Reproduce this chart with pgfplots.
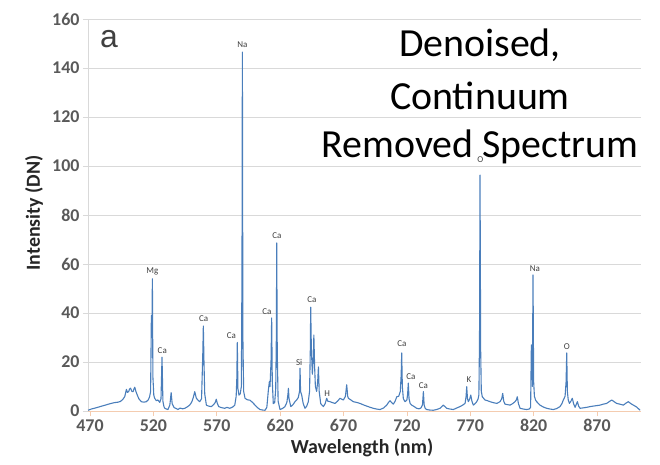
\documentclass[border=0pt]{standalone}
\usepackage{pgfplots}
\pgfplotsset{compat=1.18}
\usepackage{fontspec}
\setmainfont{Carlito}
\newfontfamily\arialfont{Liberation Sans}
\definecolor{specblue}{RGB}{74,126,187}
\definecolor{gridgray}{RGB}{217,217,217}
\definecolor{tickgray}{RGB}{89,89,89}
\definecolor{xaxiscol}{RGB}{244,204,176}
\definecolor{labgray}{RGB}{64,64,64}
\tikzset{peak/.style={font=\fontsize{9}{10}\selectfont, text=labgray, inner sep=0pt}}

% Denoised, continuum-removed LIBS spectrum: wavelength (nm), intensity (DN)
\pgfplotstableread{
nm val
468.5 0.3
471 0.8
474 1.2
478 1.8
482 2.4
486 3.0
489 3.4
492 3.6
494 3.9
496 4.8
497.4 5.9
498.7 8.8
499.5 7.6
500.5 7.9
501.2 9.0
502 9.3
503 8.0
504 7.9
504.7 9.0
505.3 9.7
506.2 8.0
507.3 6.5
508.5 5.0
510.5 3.8
512.5 3.6
514.4 3.8
516 4.6
517 5.8
517.8 8.0
518.4 39
518.8 30
519.2 54
519.6 14
520.3 6.5
521 5.2
522.3 4.2
523.6 4.5
525 3.5
526 5.0
526.8 22
527.5 4.0
528.3 1.8
529 1.1
530.3 0.8
531.5 0.6
533 2.5
534 7.5
534.8 3.0
536.3 1.4
538 1.0
539.4 0.6
541 1.2
543 0.9
544.7 1.1
546.5 1.6
548.6 2.4
550.2 3.6
551.3 5.2
552.6 7.9
553.9 5.2
555.2 4.4
556.5 3.8
558 5.0
559 24
559.4 34.7
559.9 20
560.5 7
561.8 2.4
563.5 2.0
565.7 1.8
567.5 2.6
568.8 3.5
569.6 4.8
570.4 3.2
571.5 1.8
573.5 1.4
576.3 1.1
578 1.5
580.2 1.1
582.5 1.6
584.2 2.4
585.3 6
585.8 13
586.2 28
586.7 9
587.5 6.5
588.5 7
589.4 10
589.9 60
590.2 146.5
590.6 30
591.2 8
592.3 5.2
594 4.6
596.2 4.4
598.2 3.5
600.2 2.4
602 1.4
604.1 0.6
606 0.4
608.1 0.3
609.5 1.5
610.7 8.5
611.5 12
612 10
612.8 20
613.3 38
613.8 12
614.6 3.0
615.7 3.5
616.5 9
617 30
617.3 68.6
617.7 25
618.4 4
619.9 0.6
621.8 1.0
623.8 1.8
625.3 3.5
626.2 7
626.5 9.3
627 5
628.4 1.8
630 2.5
631.7 3.8
633 4.5
634.3 5.5
635.3 8
635.7 17.5
636.1 8
637 6.5
638.2 3
639.6 1.1
641 2
642.2 3.8
643.2 8
643.8 25
644.1 42.4
644.6 26
645.4 15
646.2 22
646.6 31
647.2 18
647.8 10
648.8 8
649.6 12
650.2 18
650.8 8
652 3.0
654.1 1.8
655.5 3.0
656.7 5.2
657.6 4
659.4 3.8
661.3 3.4
663.3 3.1
665.3 4.0
667.2 5.2
669.9 4.5
671.5 6
672.5 10.7
673.3 6
673.8 5.2
675.8 4.5
677.7 3.8
680.4 3.5
683 3.1
685.7 2.5
688.3 2.0
691 1.5
693.5 1.1
696 0.8
698.8 0.6
701.5 1.2
704.1 2.4
705.5 3.5
706.7 4.2
708 3.4
709.3 2.8
710.7 4
712 5.8
713.5 6
714.8 8
715.5 15
715.9 23.7
716.4 10
717.2 5
718.5 3.8
720 4.5
720.6 7
721.1 11.4
721.7 5
722.6 3.0
723.8 2.4
725.8 1.8
727.7 1.1
729.5 0.9
731 1.2
732.3 2.5
733 7.9
733.6 2.5
734.5 1.0
735.6 0.6
738 0.4
740.8 0.3
743.4 0.6
746.1 1.1
747.5 1.8
748.7 2.4
750 1.8
751.4 1.1
754 0.8
756.6 0.6
759.2 1.2
761.9 1.8
764 2.4
765.9 3.1
766.7 6
767.2 9.9
767.8 5
768.5 3.8
769.6 5
770.4 6.5
771.3 4
772.4 2.4
773.8 3
775.1 3.8
776.2 5
776.8 6.6
777.3 30
777.7 96.3
778.2 25
778.7 8
779.5 5.8
781.6 4.5
783.6 4.2
785.6 3.8
788.2 3.4
790.9 3.1
793.5 3.8
794.8 5
795.6 7.2
796.4 4
797.4 2.8
799.4 2.6
801.4 2.4
803.4 3
805.3 3.8
806.3 4.5
807.1 5.8
808 3
809.3 1.1
811.9 0.8
814.5 0.6
816.5 0.8
817.6 1.5
818.2 27
818.6 26
819 10
819.5 55.5
820 12
820.6 6
821.5 4.5
822.4 3.8
825 2.4
827.7 1.6
830.3 1.1
833 0.8
835.5 0.6
838.2 1.0
840.8 1.8
842.3 3
843.4 4.5
844.8 6
845.6 12
846.1 23.7
846.6 8
847.3 4.5
848.2 3.1
849.4 4
850.5 5.2
851.5 3
852.7 1.5
853.7 2.8
854.5 3.8
855.5 2
856.6 1.1
859.3 1.3
861.9 1.5
864.5 1.8
867.1 2.0
869.8 2.2
872.4 2.4
875 2.8
877.6 3.1
879.6 3.8
881.6 4.5
883.5 3.8
885.5 3.1
888 2.8
890.8 2.4
892.8 3.2
894.7 3.8
896.7 3.0
898.7 2.4
901.3 1.6
904 0.3
}\spectrum

\begin{document}
\begin{tikzpicture}
\useasboundingbox (-88bp,-54bp) rectangle (572bp,411bp);
\begin{axis}[
  at={(0bp,0bp)}, anchor=south west,
  scale only axis, width=553bp, height=392bp,
  xmin=468.4, xmax=904.7, ymin=0, ymax=160,
  xtick={470,520,...,870}, ytick={0,20,...,160},
  ymajorgrids, major grid style={gridgray, line width=0.8bp},
  axis x line*=bottom, axis y line*=left,
  x axis line style={xaxiscol, line width=0.8bp, -},
  y axis line style={gridgray, line width=0.8bp, -},
  tick align=outside, major tick length=5bp,
  xtick style={xaxiscol, line width=0.8bp},
  ytick style={gridgray, line width=0.8bp},
  tick label style={font=\fontsize{18}{20}\selectfont\bfseries, text=tickgray},
  /pgf/number format/assume math mode=true,
  clip=false,
]
\addplot[specblue, line width=1.1bp, line join=round] table[x=nm, y=val] {\spectrum};

% element labels above the emission lines
\node[peak] at (axis cs:590.2,149.5) {Na};
\node[peak] at (axis cs:519.2,56.8) {Mg};
\node[peak] at (axis cs:527.0,24.8) {Ca};
\node[peak] at (axis cs:559.6,37.8) {Ca};
\node[peak] at (axis cs:581.5,30.7) {Ca};
\node[peak] at (axis cs:609.5,40.5) {Ca};
\node[peak] at (axis cs:617.5,71.6) {Ca};
\node[peak] at (axis cs:635.0,20.0) {Si};
\node[peak] at (axis cs:645.1,45.6) {Ca};
\node[peak] at (axis cs:657.0,7.2) {H};
\node[peak] at (axis cs:716.0,27.6) {Ca};
\node[peak] at (axis cs:723.2,14.2) {Ca};
\node[peak] at (axis cs:733.0,10.2) {Ca};
\node[peak] at (axis cs:769.0,12.9) {K};
\node[peak] at (axis cs:778.0,102.4) {O};
\node[peak] at (axis cs:821.0,58.1) {Na};
\node[peak] at (axis cs:846.1,26.3) {O};
\end{axis}

% axis titles
\node[font=\fontsize{20}{24}\selectfont\bfseries, text=black!85] at (274bp,-37bp) {Wavelength (nm)};
\node[font=\fontsize{20}{24}\selectfont\bfseries, text=black!85, rotate=90] at (-54bp,198bp) {Intensity (DN)};

% panel letter and annotation
\node[font=\arialfont\fontsize{32}{34}\selectfont, text=labgray, anchor=base west, inner sep=0pt] at (12bp,363bp) {a};
\node[font=\fontsize{40}{48}\selectfont, anchor=base, inner sep=0pt] at (392bp,354bp) {Denoised,};
\node[font=\fontsize{40}{48}\selectfont, anchor=base, inner sep=0pt] at (392bp,301bp) {Continuum};
\node[font=\fontsize{40}{48}\selectfont, anchor=base, inner sep=0pt] at (392bp,253bp) {Removed Spectrum};
\end{tikzpicture}
\end{document}
